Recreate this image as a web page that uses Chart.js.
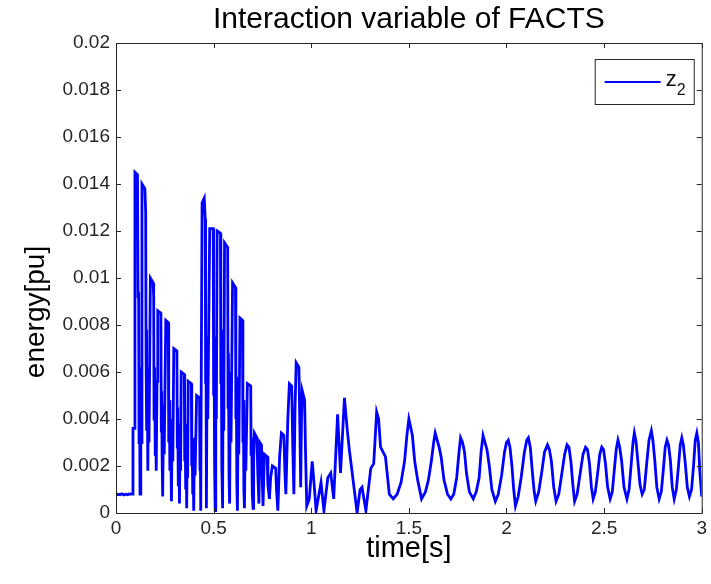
<!DOCTYPE html>
<html>
<head>
<meta charset="utf-8">
<title>Interaction variable of FACTS</title>
<script src="https://cdn.jsdelivr.net/npm/chart.js@4/dist/chart.umd.min.js"></script>
<style>
  html, body { margin: 0; padding: 0; background: #fff; }
  canvas { display: block; }
</style>
</head>
<body>
<canvas id="plot" width="711" height="584"></canvas>
<script>
// chart text
const titleText = 'Interaction variable of FACTS';
const xTitle = 'time[s]';
const yTitle = 'energy[pu]';
const seriesName = 'z';
const seriesSub = '2';

// tick labels
const xTickLabels = ['0', '0.5', '1', '1.5', '2', '2.5', '3'];
const yTickLabels = ['0', '0.002', '0.004', '0.006', '0.008', '0.01', '0.012', '0.014', '0.016', '0.018', '0.02'];

// time [s]
const times = [
  0.000, 0.010, 0.020, 0.030, 0.040, 0.050, 0.060, 0.070, 0.082, 0.087,
  0.094, 0.097, 0.110, 0.113, 0.116, 0.118, 0.120, 0.123, 0.127, 0.130,
  0.133, 0.148, 0.152, 0.154, 0.156, 0.158, 0.160, 0.163, 0.166, 0.169,
  0.176, 0.190, 0.193, 0.195, 0.198, 0.201, 0.203, 0.206, 0.210, 0.214,
  0.230, 0.232, 0.234, 0.236, 0.238, 0.240, 0.244, 0.247, 0.255, 0.268,
  0.270, 0.273, 0.276, 0.279, 0.284, 0.288, 0.291, 0.296, 0.312, 0.314,
  0.316, 0.319, 0.321, 0.325, 0.329, 0.331, 0.334, 0.350, 0.352, 0.354,
  0.357, 0.359, 0.362, 0.365, 0.367, 0.370, 0.386, 0.388, 0.390, 0.393,
  0.395, 0.398, 0.402, 0.405, 0.413, 0.428, 0.430, 0.432, 0.434, 0.437,
  0.441, 0.452, 0.457, 0.459, 0.461, 0.463, 0.467, 0.470, 0.480, 0.498,
  0.500, 0.502, 0.505, 0.508, 0.511, 0.514, 0.518, 0.535, 0.537, 0.539,
  0.542, 0.546, 0.549, 0.552, 0.556, 0.572, 0.574, 0.576, 0.579, 0.582,
  0.586, 0.589, 0.597, 0.612, 0.614, 0.616, 0.619, 0.622, 0.626, 0.629,
  0.635, 0.648, 0.650, 0.652, 0.655, 0.658, 0.662, 0.665, 0.673, 0.690,
  0.692, 0.695, 0.698, 0.702, 0.705, 0.709, 0.722, 0.726, 0.732, 0.737,
  0.745, 0.749, 0.753, 0.760, 0.774, 0.778, 0.786, 0.792, 0.801, 0.818,
  0.822, 0.829, 0.838, 0.847, 0.860, 0.865, 0.870, 0.880, 0.888, 0.900,
  0.905, 0.911, 0.917, 0.923, 0.937, 0.942, 0.946, 0.950, 0.954, 0.966,
  0.971, 0.977, 0.990, 1.005, 1.015, 1.025, 1.050, 1.065, 1.085, 1.100,
  1.115, 1.135, 1.150, 1.170, 1.185, 1.195, 1.210, 1.235, 1.250, 1.260,
  1.280, 1.305, 1.320, 1.335, 1.345, 1.355, 1.380, 1.400, 1.420, 1.440,
  1.460, 1.478, 1.490, 1.500, 1.508, 1.518, 1.530, 1.545, 1.565, 1.585,
  1.600, 1.615, 1.627, 1.635, 1.645, 1.655, 1.665, 1.680, 1.698, 1.715,
  1.730, 1.745, 1.757, 1.765, 1.775, 1.785, 1.795, 1.810, 1.830, 1.845,
  1.860, 1.870, 1.880, 1.890, 1.900, 1.912, 1.925, 1.943, 1.958, 1.975,
  1.990, 2.000, 2.009, 2.018, 2.028, 2.037, 2.046, 2.060, 2.075, 2.092,
  2.104, 2.112, 2.122, 2.132, 2.142, 2.150, 2.165, 2.180, 2.195, 2.210,
  2.220, 2.230, 2.242, 2.254, 2.268, 2.282, 2.298, 2.310, 2.320, 2.330,
  2.340, 2.349, 2.362, 2.376, 2.392, 2.405, 2.415, 2.425, 2.435, 2.444,
  2.455, 2.467, 2.478, 2.488, 2.497, 2.507, 2.518, 2.531, 2.542, 2.552,
  2.562, 2.571, 2.580, 2.590, 2.602, 2.617, 2.628, 2.638, 2.648, 2.655,
  2.664, 2.674, 2.684, 2.695, 2.706, 2.717, 2.730, 2.742, 2.750, 2.760,
  2.770, 2.782, 2.793, 2.803, 2.813, 2.822, 2.830, 2.840, 2.849, 2.859,
  2.870, 2.880, 2.890, 2.898, 2.906, 2.916, 2.926, 2.937, 2.948, 2.958,
  2.967, 2.975, 2.983, 2.990, 3.000
];

// energy [pu] at those times
const energy = [
  0.00075, 0.00080, 0.00078, 0.00082, 0.00077, 0.00080, 0.00078, 0.00081, 0.00080, 0.0036,
  0.0036, 0.0145, 0.0144, 0.0092, 0.0094, 0.0030, 0.0062, 0.0008, 0.0055, 0.0030,
  0.0140, 0.0138, 0.0128, 0.0068, 0.0078, 0.0035, 0.0062, 0.0018, 0.0052, 0.0030,
  0.0100, 0.0098, 0.0092, 0.0040, 0.0062, 0.0025, 0.0050, 0.0018, 0.0056, 0.0086,
  0.0085, 0.0035, 0.0052, 0.0025, 0.0042, 0.0007, 0.0046, 0.0025, 0.0082, 0.0081,
  0.0030, 0.0048, 0.0018, 0.0040, 0.0005, 0.0040, 0.0022, 0.0070, 0.0069, 0.0028,
  0.0045, 0.0012, 0.0038, 0.0004, 0.0036, 0.0018, 0.0060, 0.0059, 0.0022, 0.0038,
  0.0010, 0.0030, 0.0002, 0.0030, 0.0015, 0.0056, 0.0055, 0.0020, 0.0032, 0.0008,
  0.0026, 0.0001, 0.0032, 0.0016, 0.0050, 0.0049, 0.0018, 0.0028, 0.0001, 0.0065,
  0.0132, 0.0134, 0.0125, 0.0055, 0.0075, 0.0002, 0.0068, 0.0040, 0.0121, 0.0121,
  0.0050, 0.0075, 0.0020, 0.0001, 0.0075, 0.0040, 0.0120, 0.0119, 0.0055, 0.0078,
  0.0020, 0.0002, 0.0068, 0.0035, 0.0115, 0.0113, 0.0045, 0.0068, 0.0015, 0.0004,
  0.0060, 0.0030, 0.0098, 0.0096, 0.0040, 0.0058, 0.0012, 0.0001, 0.0050, 0.0025,
  0.0083, 0.0082, 0.0030, 0.0048, 0.0010, 0.0002, 0.0035, 0.0018, 0.0055, 0.0054,
  0.0025, 0.0032, 0.0008, 0.0002, 0.0022, 0.0034, 0.0032, 0.0018, 0.0004, 0.0030,
  0.0029, 0.0015, 0.0003, 0.0025, 0.0024, 0.0012, 0.0006, 0.0015, 0.0020, 0.0019,
  0.0010, 0.0001, 0.0024, 0.0034, 0.0033, 0.0018, 0.0008, 0.0040, 0.0055, 0.0054,
  0.0030, 0.0008, 0.0045, 0.0064, 0.0062, 0.0035, 0.0011, 0.0040, 0.0052, 0.0048,
  0.0025, 0.0003, 0.0006, 0.0022, 0.0012, 0.0001, 0.0013, 0.0001, 0.0015, 0.0017,
  0.0006, 0.0042, 0.0017, 0.0049, 0.0035, 0.0027, 0.0017, 0.0000, 0.0010, 0.0011,
  0.0001, 0.0019, 0.0021, 0.0043, 0.0040, 0.0028, 0.0024, 0.0008, 0.0006, 0.0008,
  0.0013, 0.0022, 0.0033, 0.0040, 0.0037, 0.0033, 0.0022, 0.0014, 0.0006, 0.0009,
  0.0014, 0.0022, 0.0030, 0.0034, 0.0031, 0.0028, 0.0024, 0.0014, 0.0008, 0.0006,
  0.0008, 0.0015, 0.0026, 0.0032, 0.0030, 0.0026, 0.0017, 0.0009, 0.0006, 0.0009,
  0.0015, 0.0026, 0.0033, 0.0030, 0.0027, 0.0020, 0.0010, 0.0005, 0.0008, 0.0016,
  0.0026, 0.0030, 0.0031, 0.0028, 0.0020, 0.0010, 0.0003, 0.0007, 0.0015, 0.0026,
  0.0031, 0.0032, 0.0028, 0.0018, 0.0009, 0.0005, 0.0009, 0.0017, 0.0026, 0.0029,
  0.0027, 0.0022, 0.0011, 0.0005, 0.0008, 0.0016, 0.0025, 0.0029, 0.0028, 0.0022,
  0.0012, 0.0005, 0.0008, 0.0016, 0.0025, 0.0028, 0.0027, 0.0021, 0.0011, 0.0006,
  0.0009, 0.0017, 0.0025, 0.0028, 0.0027, 0.0021, 0.0011, 0.0006, 0.0009, 0.0018,
  0.0027, 0.0031, 0.0028, 0.0022, 0.0011, 0.0006, 0.0010, 0.0020, 0.0030, 0.0034,
  0.0030, 0.0021, 0.0012, 0.0008, 0.0010, 0.0020, 0.0031, 0.0035, 0.0031, 0.0022,
  0.0011, 0.0006, 0.0009, 0.0018, 0.0028, 0.0031, 0.0029, 0.0022, 0.0011, 0.0006,
  0.0010, 0.0019, 0.0029, 0.0032, 0.0029, 0.0021, 0.0011, 0.0007, 0.0010, 0.0020,
  0.0031, 0.0034, 0.0030, 0.0018, 0.0007
];

const FONT = 'Arial, "Liberation Sans", Helvetica, sans-serif';
const lineColor = '#0000ff';
const axisColor = '#262626';

// matlab style box, inward ticks on all four sides, y label and the legend
const boxPlugin = {
  id: 'matlabBox',
  afterDraw(chart) {
    const { ctx, chartArea: a, scales } = chart;
    const len = 5;
    ctx.save();
    ctx.strokeStyle = axisColor;
    ctx.lineWidth = 1;
    ctx.strokeRect(a.left + 0.5, a.top + 0.5, a.right - a.left, a.bottom - a.top);
    ctx.beginPath();
    scales.x.ticks.forEach(t => {
      const px = Math.round(scales.x.getPixelForValue(t.value)) + 0.5;
      ctx.moveTo(px, a.bottom); ctx.lineTo(px, a.bottom - len);
      ctx.moveTo(px, a.top); ctx.lineTo(px, a.top + len);
    });
    scales.y.ticks.forEach(t => {
      const py = Math.round(scales.y.getPixelForValue(t.value)) + 0.5;
      ctx.moveTo(a.left, py); ctx.lineTo(a.left + len, py);
      ctx.moveTo(a.right, py); ctx.lineTo(a.right - len, py);
    });
    ctx.stroke();

    // y axis title, sits a bit below the middle as in the original
    ctx.save();
    ctx.translate(36, 312);
    ctx.rotate(-Math.PI / 2);
    ctx.fillStyle = '#000';
    ctx.font = '28px ' + FONT;
    ctx.textAlign = 'center';
    ctx.textBaseline = 'middle';
    ctx.fillText(yTitle, 0, 0);
    ctx.restore();

    // legend box
    const lx = a.right - 107, ly = a.top + 16, lw = 99, lh = 45;
    ctx.fillStyle = '#fff';
    ctx.fillRect(lx, ly, lw, lh);
    ctx.strokeStyle = axisColor;
    ctx.lineWidth = 1;
    ctx.strokeRect(lx + 0.5, ly + 0.5, lw, lh);
    ctx.strokeStyle = lineColor;
    ctx.lineWidth = 2;
    ctx.beginPath();
    ctx.moveTo(lx + 10, ly + 23);
    ctx.lineTo(lx + 66, ly + 23);
    ctx.stroke();
    ctx.fillStyle = '#111';
    ctx.textBaseline = 'alphabetic';
    ctx.font = '22px ' + FONT;
    ctx.fillText(seriesName, lx + 71, ly + 27);
    ctx.font = '16px ' + FONT;
    ctx.fillText(seriesSub, lx + 82, ly + 36);
    ctx.restore();
  }
};

const points = times.map((t, i) => ({ x: t, y: energy[i] }));

new Chart(document.getElementById('plot').getContext('2d'), {
  type: 'line',
  data: {
    datasets: [{
      label: seriesName + seriesSub,
      data: points,
      borderColor: lineColor,
      backgroundColor: lineColor,
      borderWidth: 2.8,
      pointRadius: 0,
      tension: 0,
      fill: false
    }]
  },
  options: {
    responsive: false,
    animation: false,
    devicePixelRatio: 1,
    layout: { padding: { left: 0, right: 7, top: 0, bottom: 0 } },
    plugins: {
      legend: { display: false },
      tooltip: { enabled: false },
      title: {
        display: true,
        text: titleText,
        fullSize: false,
        color: '#000',
        font: { family: FONT, size: 30, weight: 'normal' },
        padding: { top: 1.5, bottom: 5.5 }
      }
    },
    scales: {
      x: {
        type: 'linear',
        min: 0,
        max: 3,
        afterFit(scale) { scale.height = 71; },
        grid: { display: false, drawTicks: false },
        border: { display: false },
        ticks: {
          stepSize: 0.5,
          padding: 4,
          color: axisColor,
          maxRotation: 0,
          font: { family: FONT, size: 19 },
          callback: (v, i) => xTickLabels[i]
        },
        title: {
          display: true,
          text: xTitle,
          color: '#000',
          font: { family: FONT, size: 29 },
          padding: { top: 0, bottom: 18 }
        }
      },
      y: {
        min: 0,
        max: 0.02,
        afterFit(scale) { scale.width = 116; },
        grid: { display: false, drawTicks: false },
        border: { display: false },
        ticks: {
          stepSize: 0.002,
          padding: 6,
          color: axisColor,
          font: { family: FONT, size: 19 },
          callback: (v, i) => yTickLabels[i]
        },
        title: { display: false }
      }
    }
  },
  plugins: [boxPlugin]
});
</script>
</body>
</html>
